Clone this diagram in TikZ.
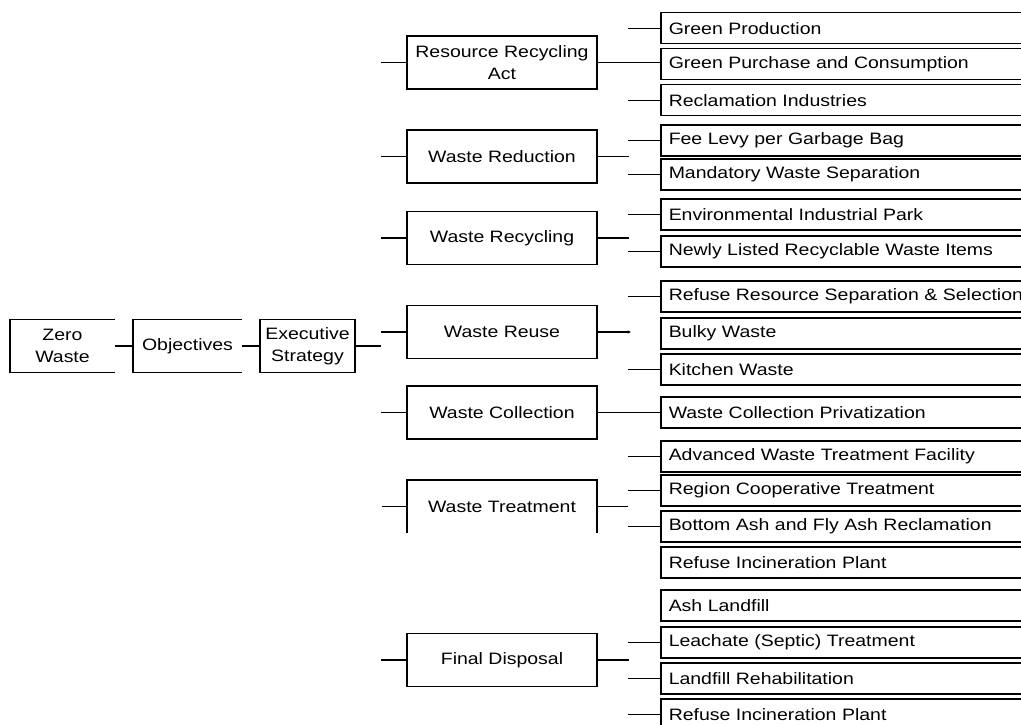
\documentclass[tikz,border=0pt]{standalone}
\usepackage{fontspec}
\setmainfont[FakeStretch=1.18]{Liberation Sans}
\usetikzlibrary{arrows.meta}
\begin{document}
\begin{tikzpicture}[x=1pt,y=-1pt,
  txt/.style={font=\fontsize{16.5}{22.5}\selectfont, inner sep=0pt},
  box/.style={draw, line width=1.5pt},
  edge/.style={line width=1.5pt},
  topbox/.style={txt, align=center, minimum height=53pt},
  lvone/.style={txt, align=center, minimum width=190pt, minimum height=53pt},
  leaf/.style={box, txt, anchor=north west, minimum height=31pt, text width=372pt, inner xsep=8pt, align=left},
  link/.style={line width=1.2pt}]
\useasboundingbox (0,0) rectangle (1021,725);
\clip (0,0) rectangle (1021,725);
% level 0
\node[topbox, minimum width=105pt] (ZW) at (62.5,346) {Zero\\Waste};
\node[topbox, minimum width=109pt] (OB) at (187.5,346) {Objectives};
\node[topbox, box, minimum width=95pt] (ES) at (307.5,346) {Executive\\Strategy};
\draw[edge] (ZW.north east) -- (ZW.north west) -- (ZW.south west) -- (ZW.south east);
\draw[edge] (OB.north east) -- (OB.north west) -- (OB.south west) -- (OB.south east);
\coordinate (EStail) at (381,346);
\draw[link] (ZW.east) -- (OB.west);
\draw[link] (OB.east) -- (ES.west);
\draw[link] (ES.east) -- (EStail);
% level 1
\node[lvone, box] (RRA) at (502,62.5) {Resource Recycling\\Act};
\node[lvone, box] (WRD) at (502,156.5) {Waste Reduction};
\node[lvone, box] (WRC) at (502,238) {Waste Recycling};
\node[lvone, box] (WRU) at (502,332) {Waste Reuse};
\node[lvone, box] (WC) at (502,412.5) {Waste Collection};
\node[lvone] (WT) at (502,506.5) {Waste Treatment};
\draw[edge] (WT.south west) -- (WT.north west) -- (WT.north east) -- (WT.south east);
\node[lvone, box] (FD) at (502,660) {Final Disposal};
\foreach \n in {RRA,WRD,WRC,WRU,WC,WT,FD}{
  \draw[link] (\n.west) -- ++(-25,0);
}
% level 2
\node[leaf] (GP) at (660,12) {Green Production};
\node[leaf] (GPC) at (660,48) {Green Purchase and Consumption};
\node[leaf] (RI) at (660,84) {Reclamation Industries};
\node[leaf] (FL) at (660,124) {Fee Levy per Garbage Bag};
\node[leaf] (MWS) at (660,158) {Mandatory Waste Separation};
\node[leaf] (EIP) at (660,198) {Environmental Industrial Park};
\node[leaf] (NL) at (660,235) {Newly Listed Recyclable Waste Items};
\node[leaf] (RRS) at (660,280) {Refuse Resource Separation \& Selection};
\node[leaf] (BW) at (660,317) {Bulky Waste};
\node[leaf] (KW) at (660,353) {Kitchen Waste};
\node[leaf] (WCP) at (660,396) {Waste Collection Privatization};
\node[leaf] (AWT) at (660,440) {Advanced Waste Treatment Facility};
\node[leaf] (RCT) at (660,474) {Region Cooperative Treatment};
\node[leaf] (BA) at (660,510) {Bottom Ash and Fly Ash Reclamation};
\node[leaf] (RIP) at (660,546) {Refuse Incineration Plant};
\node[leaf] (AL) at (660,589) {Ash Landfill};
\node[leaf] (LT) at (660,626) {Leachate (Septic) Treatment};
\node[leaf] (LR) at (660,662) {Landfill Rehabilitation};
\node[leaf] (RIP2) at (660,698) {Refuse Incineration Plant};
% level 1 -> level 2
\draw[link] (RRA.east) -- (RRA.east -| GPC.west);
\draw[link] (WC.east) -- (WC.east -| WCP.west);
\foreach \n in {WRD,WRC,WT,FD}{
  \draw[link] (\n.east) -- ++(31,0);
}
\draw[link, -{Stealth[length=3pt,width=3pt]}] (WRU.east) -- ++(33,0);
\foreach \n in {GP,RI,FL,MWS,EIP,NL,RRS,KW,AWT,RCT,BA,LT,LR,RIP2}{
  \draw[link] (\n.west) -- ++(-32,0);
}
\end{tikzpicture}
\end{document}
